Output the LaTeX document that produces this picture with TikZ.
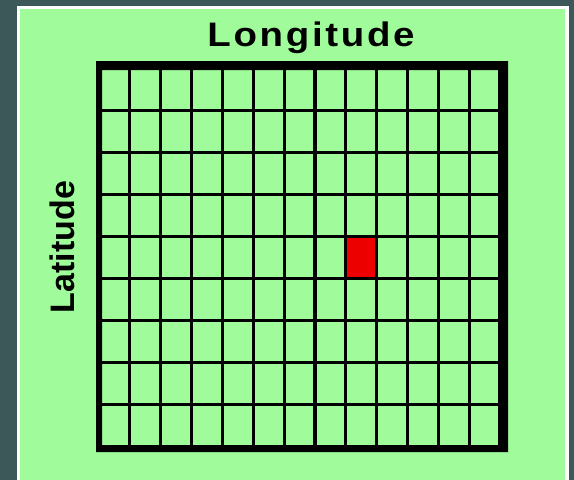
\documentclass[tikz,border=0pt]{standalone}
\usepackage{fontspec}
\setmainfont{Liberation Sans}
\usetikzlibrary{positioning}
\definecolor{slate}{RGB}{60,88,89}
\definecolor{panelgreen}{RGB}{160,252,154}
\definecolor{cellred}{RGB}{236,0,0}

\begin{document}
\begin{tikzpicture}[
    x=1pt,
    y=-1pt,
    axistext/.style={font=\fontsize{34}{34}\selectfont\bfseries, inner sep=0pt},
    gridline/.style={line width=3.2pt}
]
\fill[slate] (0,0) rectangle (574,480);
\useasboundingbox (0,0) rectangle (574,480);
\fill[white] (17,6) rectangle (569,480);
\fill[panelgreen] (20,9) rectangle (565,480);
% thick outer frame
\fill[black, even odd rule] (96,61) rectangle (508,452) (102,70) rectangle (498,445);
\fill[cellred] (345.8,236.4) rectangle (376.6,278.5);
\foreach \i in {1,...,12}
  \draw[gridline] ({99+\i*30.85},70) -- ({99+\i*30.85},445);
\foreach \j in {1,...,8}
  \draw[gridline] (102,{68+\j*42.1}) -- (498,{68+\j*42.1});
\node[axistext, anchor=base, xscale=1.13] (lon) at (311,46.7) {\addfontfeatures{LetterSpace=7}Longitude};
\node[axistext, rotate=90] (lat) at (62.5,247) {Latitude};
\end{tikzpicture}
\end{document}
